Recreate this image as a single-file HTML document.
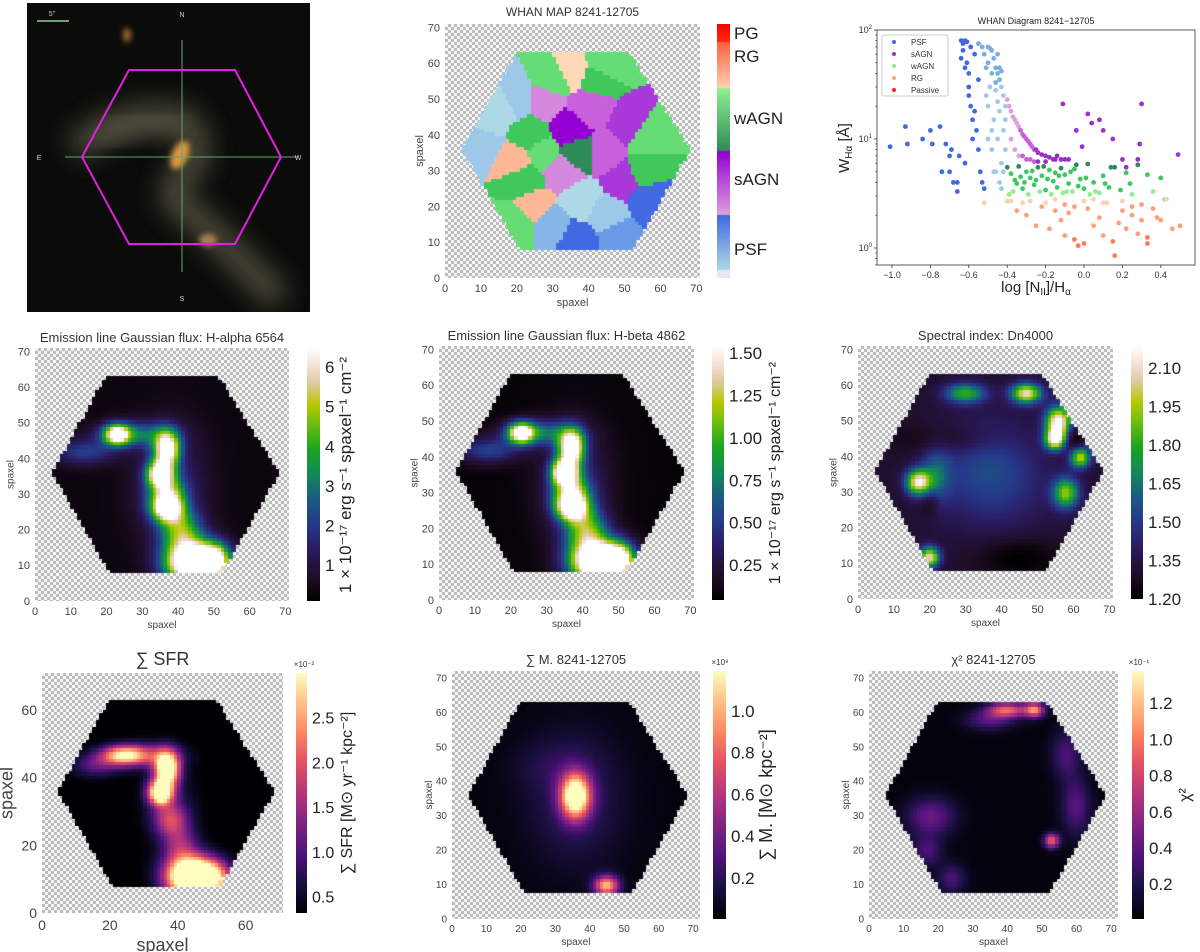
<!DOCTYPE html>
<html><head><meta charset="utf-8">
<style>
html,body{margin:0;padding:0;background:#fff;}
body{width:1200px;height:952px;position:relative;overflow:hidden;font-family:"Liberation Sans","DejaVu Sans",sans-serif;}
canvas{position:absolute;display:block;}
.chk{background:repeating-conic-gradient(#bdbdbd 0 25%,#f4f4f4 0 50%) 0 0/6px 6px;}
#overlay{position:absolute;left:0;top:0;}
</style></head>
<body>
<svg id="galaxy" width="1200" height="952" style="position:absolute;left:0;top:0" xmlns="http://www.w3.org/2000/svg">
 <defs>
  <filter id="bl" x="-50%" y="-50%" width="200%" height="200%"><feGaussianBlur stdDeviation="12"/></filter>
  <filter id="bl2" x="-50%" y="-50%" width="200%" height="200%"><feGaussianBlur stdDeviation="3"/></filter>
  <clipPath id="gclip"><rect x="27" y="3" width="283" height="309"/></clipPath>
 </defs>
 <g clip-path="url(#gclip)">
  <rect x="27" y="3" width="283" height="309" fill="#0b0c09"/>
  <path d="M75,150 Q120,110 175,118 Q200,125 195,160 Q170,185 175,200 Q205,225 230,250 Q255,275 280,300" stroke="#5a5846" stroke-width="30" fill="none" filter="url(#bl)" opacity="0.75"/>
  <path d="M100,140 Q140,118 180,125" stroke="#6e6650" stroke-width="12" fill="none" filter="url(#bl)" opacity="0.8"/>
  <ellipse cx="180" cy="155" rx="8" ry="15" fill="#d89a40" filter="url(#bl2)" transform="rotate(25 180 155)"/>
  <ellipse cx="208" cy="240" rx="9" ry="6" fill="#b08050" filter="url(#bl2)"/>
  <ellipse cx="127" cy="35" rx="4" ry="7" fill="#a06a30" filter="url(#bl2)"/>
  <line x1="182" y1="40" x2="182" y2="272" stroke="#6aa070" stroke-width="1"/>
  <line x1="65" y1="157" x2="298" y2="157" stroke="#6aa070" stroke-width="1"/>
  <line x1="37" y1="21" x2="69" y2="21" stroke="#8fd08f" stroke-width="1.5"/>
  <polygon points="82,157 129,70 235,70 281,157 235,244 129,244" fill="none" stroke="#e020e0" stroke-width="2"/>
 </g>
 <text x="52" y="16" font-size="7" fill="#ccc" text-anchor="middle">5"</text>
 <text x="182" y="17" font-size="7" fill="#ccc" text-anchor="middle">N</text>
 <text x="182" y="301" font-size="7" fill="#ccc" text-anchor="middle">S</text>
 <text x="39" y="160" font-size="7" fill="#ccc" text-anchor="middle">E</text>
 <text x="298" y="160" font-size="7" fill="#ccc" text-anchor="middle">W</text>
</svg>
<svg id="overlay" width="1200" height="952" xmlns="http://www.w3.org/2000/svg"></svg>
<script>
// ---------------- data ----------------
const whanX=[12,20,10,28,40,35,33,45,50,52,38,45,37,30,22,27,24,30,42,55,55,20,20,25,36,37,48,57,16,44];
const whanY=[45,50,38,50,48,42,30,35,28,42,22,18,11,15,28,35,40,55,56,40,30,15,33,20,58,35,12,22,48,60];
const whanC=[0,0,0,1,1,1,1,1,1,1,0,0,0,0,2,2,2,2,2,2,2,2,3,3,3,2,0,0,0,2];
const whanS=[0,1,1,1,2,4,1,2,3,3,0,1,4,2,2,1,2,1,2,1,2,1,1,1,0,4,3,4,0,1];
const haBx=[23,28,14,37,35,37,37,41,45,51,38];
const haBy=[47,47,42,43,36,30,26,20,11,12,32];
const haSx=[2.5,7,6,2.5,2.5,3.5,3,4,5.5,2.5,7];
const haSy=[2,2.5,2.5,3.5,2.5,3.5,2.5,4,4,3,12];
const haAmp=[6,2.5,1.8,6.5,6.5,4,5,3.5,10,3,1.3];
const hbAmp=[1.45,0.6,0.45,1.6,1.6,1.0,1.25,0.85,2.4,0.7,0.32];
const sfrBx=[24,16,37,35,38,41,45,52,30,38];
const sfrBy=[47,44,43,36,28,20,11,11,47,32];
const sfrSx=[4.5,5,2.5,2.5,3.5,3.5,5.5,2.5,7,6];
const sfrSy=[2,2.5,3.5,2.5,3.5,4,4,3,2.5,10];
const sfrAmp=[2.0,0.8,3.5,3.5,1.3,1.0,5,0.8,1.2,0.4];
const dnBx=[36,22,56,55,17,58,20,47,62,25,45,60,20,30,42];
const dnBy=[37,35,50,45,33,30,12,58,40,45,12,45,28,58,30];
const dnSx=[10,3,2.5,2,2.5,2.5,2,3,2,10,8,2,2,4,12];
const dnSy=[10,6,3,2,2.5,3,2,2,2,3,4,3,3,2,10];
const dnAmp=[0.2,0.25,0.9,0.8,0.8,0.6,0.8,0.8,0.7,-0.1,-0.12,-0.15,-0.15,0.5,0.06];
const msBx=[36,45,36,28];
const msBy=[36,10,35,45];
const msSx=[3,2.5,10,8];
const msSy=[4.5,2,14,5];
const msAmp=[1.4,1.0,0.2,0.08];
const chBx=[53,40,48,35,18,60,57,24,17];
const chBy=[23,61,61,58,30,33,48,12,20];
const chSx=[1.5,4,2,5,5,3,3,3,3];
const chSy=[1.5,1.5,1.5,2,4,6,5,3,3];
const chAmp=[0.9,0.9,1.0,0.35,0.4,0.35,0.3,0.3,0.3];
const psfX=[-1.01,-0.92,-0.93,-0.84,-0.8,-0.79,-0.75,-0.74,-0.72,-0.7,-0.69,-0.68,-0.66,-0.65,-0.64,-0.63,-0.62,-0.61,-0.6,-0.6,-0.59,-0.58,-0.57,-0.56,-0.55,-0.54,-0.53,-0.52,-0.64,-0.62,-0.6,-0.58,-0.66,-0.7,-0.62,-0.57,-0.55,-0.61,-0.63,-0.59];
const psfY=[8.5,9,13,10,12,9,13,5,9,5,8,4,3.3,7,80,75,80,78,40,30,20,15,60,12,8,5,4,3.5,55,45,25,10,4,7,6,18,35,50,65,70];
const lpX=[-0.5,-0.49,-0.48,-0.47,-0.46,-0.45,-0.44,-0.43,-0.42,-0.41,-0.5,-0.48,-0.46,-0.44,-0.42,-0.41,-0.47,-0.45,-0.43,-0.49,-0.52,-0.51,-0.5,-0.48,-0.46,-0.44,-0.43,-0.45,-0.47,-0.42,-0.53,-0.55,-0.5,-0.45,-0.41,-0.44,-0.48,-0.46,-0.43,-0.51];
const lpY=[70,68,65,55,45,40,35,30,25,20,50,40,28,18,12,8,15,10,6,30,60,45,20,8,5,4,3.5,60,5,5,70,75,10,22,15,45,12,33,42,25];
const sX=[-0.4,-0.39,-0.38,-0.37,-0.36,-0.35,-0.34,-0.33,-0.32,-0.31,-0.3,-0.29,-0.28,-0.27,-0.26,-0.25,-0.24,-0.22,-0.2,-0.18,-0.16,-0.14,-0.12,-0.1,-0.08,-0.38,-0.36,-0.34,-0.32,-0.3,-0.28,-0.26,-0.24,-0.2,-0.15,-0.11,0.02,0.08,0.1,0.04,-0.04,0.15,0.3,0.29,0.28,0.49,0.2,0.22,-0.01];
const sY=[23,20,18,16,15,14,13,12,11,10.5,10,9.5,9,8.5,8,8,7.5,7.2,7,6.8,6.5,7,6.5,6.5,6.5,10,8,7,7,6.5,6.5,6.2,6.2,6.2,6.5,21,17,15,12,14,12,10,21,9,6.5,7.2,6.5,5.5,8.5];
const wX=[-0.4,-0.38,-0.36,-0.34,-0.32,-0.3,-0.28,-0.26,-0.24,-0.22,-0.2,-0.18,-0.16,-0.14,-0.12,-0.1,-0.08,-0.06,-0.04,-0.02,0,0.02,0.05,0.08,0.1,0.13,0.16,0.19,0.22,0.25,0.28,0.33,0.36,0.4,-0.39,-0.35,-0.31,-0.27,-0.23,-0.19,-0.15,-0.11,-0.07,-0.03,0.01,0.06,0.11,-0.37,-0.33,-0.29,-0.25,-0.21,-0.17,-0.13,-0.09,-0.05,0.03,0.14,0.24,0.42];
const wY=[5.5,4.8,4.2,5.6,3.5,5.0,4.4,3.8,5.5,4.6,3.4,5.2,4.1,3.6,5.4,4.7,3.9,3.3,5.8,4.3,3.5,5.9,4.0,3.2,4.6,3.6,5.5,3.4,4.9,3.1,5.8,4.7,3.3,4.4,3.1,3.9,4.0,5.1,3.3,4.3,4.9,3.2,5.0,3.7,4.4,3.3,3.9,3.3,4.5,3.1,4.2,5.6,3.1,4.6,3.3,5.3,3.1,5.5,3.9,2.8];
const rX=[-0.52,-0.4,-0.35,-0.3,-0.25,-0.22,-0.18,-0.15,-0.12,-0.1,-0.08,-0.05,-0.03,0,0.02,0.05,0.08,0.1,0.12,0.15,0.16,0.18,0.2,0.22,0.25,0.28,0.3,0.33,0.33,0.36,0.38,0.4,0.43,0.46,0.5,-0.28,-0.2,-0.1,0,0.1,0.2,0.3,-0.15,-0.05,0.05,0.25,-0.38,-0.32];
const rY=[2.6,2.7,2.2,2.0,1.6,2.4,1.5,2.8,1.8,1.3,2.1,1.2,1.05,1.1,2.3,1.6,1.9,1.3,2.6,1.15,0.85,1.7,2.2,1.5,2.0,1.35,1.8,1.25,1.1,2.3,1.9,1.8,2.8,1.5,1.6,2.7,2.6,2.5,2.7,2.6,2.7,2.5,2.2,2.4,2.8,2.4,2.7,2.6];
const scXTicks=[-1.0,-0.8,-0.6,-0.4,-0.2,0.0,0.2,0.4];
const scYTicks=[0,1,2];
const legendNames=['PSF','sAGN','wAGN','RG','Passive'];
const whanLabels=['PG','RG','wAGN','sAGN','PSF'];

// ---------------- helpers ----------------
const NS='http://www.w3.org/2000/svg';
const ov=document.getElementById('overlay');
function txt(x,y,s,size,name,anchor,rot,color){
  const e=document.createElementNS(NS,'text');
  e.setAttribute('x',x);e.setAttribute('y',y);
  e.setAttribute('font-size',size);
  e.setAttribute('fill',color||'#444');
  e.setAttribute('text-anchor',anchor||'middle');
  e.setAttribute('font-family','Liberation Sans, DejaVu Sans, sans-serif');
  if(rot)e.setAttribute('transform','rotate('+rot+' '+x+' '+y+')');
  e.textContent=s;
  
  
  ov.appendChild(e);return e;
}
function ln(x1,y1,x2,y2,c,w,name){
  const e=document.createElementNS(NS,'line');
  e.setAttribute('x1',x1);e.setAttribute('y1',y1);e.setAttribute('x2',x2);e.setAttribute('y2',y2);
  e.setAttribute('stroke',c);e.setAttribute('stroke-width',w);
  
  
  ov.appendChild(e);return e;
}
function hex2rgb(h){return [parseInt(h.substr(1,2),16),parseInt(h.substr(3,2),16),parseInt(h.substr(5,2),16)];}
function mkCmap(stops){const s=stops.map(a=>[a[0],hex2rgb(a[1])]);
  return function(t){t=Math.max(0,Math.min(1,t));for(let i=1;i<s.length;i++){if(t<=s[i][0]){const a=s[i-1],b=s[i];const f=(t-a[0])/(b[0]-a[0]||1);
    return 'rgb('+[0,1,2].map(k=>Math.round(a[1][k]+f*(b[1][k]-a[1][k]))).join(',')+')';}}const l=s[s.length-1][1];return 'rgb('+l.join(',')+')';};}
const earth=mkCmap([[0,'#000000'],[0.08,'#1c0c22'],[0.2,'#2a1a5e'],[0.3,'#26388a'],[0.4,'#1a5a82'],[0.5,'#128a5a'],[0.6,'#1aa51e'],[0.7,'#6cbf10'],[0.78,'#b8c800'],[0.86,'#e0c8a0'],[0.93,'#f4e2d4'],[1,'#ffffff']]);
const magma=mkCmap([[0,'#000004'],[0.13,'#1c1044'],[0.25,'#4f127b'],[0.38,'#812581'],[0.5,'#b5367a'],[0.63,'#e55064'],[0.75,'#fb8761'],[0.88,'#fec287'],[1,'#fcfdbf']]);
const hexPoly=[[5,36],[20,63],[51,63],[68,36],[52,8],[21,8]];
function inHex(x,y){let c=false;for(let i=0,j=hexPoly.length-1;i<hexPoly.length;j=i++){const a=hexPoly[i],b=hexPoly[j];
  if(((a[1]>y)!=(b[1]>y))&&(x<(b[0]-a[0])*(y-a[1])/(b[1]-a[1])+a[0]))c=!c;}return c;}
function blobField(bx,by,sx,sy,amp,bg){return function(x,y){let v=bg;for(let i=0;i<bx.length;i++){const dx=(x-bx[i])/sx[i],dy=(y-by[i])/sy[i];v+=amp[i]*Math.exp(-0.5*(dx*dx+dy*dy));}return v;};}
function canvas(x,y,w,h,name,chk){const c=document.createElement('canvas');c.width=w;c.height=h;c.style.left=x+'px';c.style.top=y+'px';if(chk)c.className='chk';
  
  
  document.body.insertBefore(c,ov);return c.getContext('2d');}
function frameAxes(x,y,w,h,range,ticks,fs,labFs,labelName,title,titleFs,titleDy){
  ticks.forEach(t=>{
    txt(x+t/range*w,y+h+fs+3,String(t),fs,'x-tick-label','middle');
    txt(x-5,y+h-t/range*h+fs*0.35,String(t),fs,'y-tick-label','end');
  });
  txt(x+w/2,y+h+fs+labFs+6,'spaxel',labFs,labelName+'-x-axis-title','middle');
  txt(x-fs*1.6-labFs*0.4,y+h/2,'spaxel',labFs,labelName+'-y-axis-title','middle',-90);
  if(title)txt(x+w/2,y-(titleDy||6),title,titleFs,labelName+'-title','middle',0,'#333');
}
function mapPanel(cfg){
  const ctx=canvas(cfg.x,cfg.y,cfg.w,cfg.h,cfg.name+'-heatmap',true);
  const cw=cfg.w/cfg.range,ch=cfg.h/cfg.range;
  for(let i=0;i<Math.ceil(cfg.range);i++)for(let j=0;j<Math.ceil(cfg.range);j++){
    const cx=i+0.5,cy=j+0.5;if(!inHex(cx,cy))continue;
    ctx.fillStyle=cfg.color(cx,cy);
    ctx.fillRect(Math.floor(i*cw),Math.floor(cfg.h-(j+1)*ch),Math.ceil(cw)+1,Math.ceil(ch)+1);
  }
}
function colorbar(x,y,w,h,cmap,vmin,vmax,ticks,fmt,fs,name){
  const ctx=canvas(x,y,w,h,name,false);
  for(let r=0;r<h;r++){ctx.fillStyle=cmap(1-r/(h-1));ctx.fillRect(0,r,w,1);}
  ticks.forEach(t=>{const py=y+h-(t-vmin)/(vmax-vmin)*h;
    txt(x+w+5,py+fs*0.36,t.toFixed(fmt),fs,name+'-tick','start',0,'#222');});
}

// ---------------- WHAN map ----------------
const whanPal=[['#add8e6','#9ec8e8','#87b6e8','#6a9ae6','#4169e1'],['#e0a8e0','#d488de','#c860dc','#a838d8','#9400d3'],['#90ee90','#66dd74','#40c85a','#33b055','#2e8b57'],['#ffd8b8','#ffb896','#ff9a78']];
mapPanel({name:'whan-map',x:445,y:24,w:255,h:254,range:71,color:function(x,y){
  let best=0,bd=1e9;for(let k=0;k<whanX.length;k++){const d=(x-whanX[k])**2+(y-whanY[k])**2;if(d<bd){bd=d;best=k;}}
  const p=whanPal[whanC[best]];return p[Math.min(whanS[best],p.length-1)];}});
frameAxes(445,24,255,254,71,[0,10,20,30,40,50,60,70],11,11,'whan-map','WHAN MAP 8241-12705',12,8);
(function(){const ctx=canvas(717,24,13,254,'whan-colorbar',false);
  const segs=[['#ff0000','#ff2a10',0,0.07],['#ff6040','#ffd0b0',0.07,0.25],['#90f090','#2e8b57',0.25,0.5],['#9400d3','#dda0dd',0.5,0.75],['#4169e1','#add8e6',0.75,0.97],['#e6e6f4','#e6e6f4',0.97,1]];
  segs.forEach(s=>{const a=hex2rgb(s[0]),b=hex2rgb(s[1]);const y0=Math.round(s[2]*254),y1=Math.round(s[3]*254);
    for(let r=y0;r<y1;r++){const f=(r-y0)/Math.max(1,y1-y0-1);ctx.fillStyle='rgb('+[0,1,2].map(k=>Math.round(a[k]+f*(b[k]-a[k]))).join(',')+')';ctx.fillRect(0,r,13,1);}});
  const ly=[39,62,124,185,255];
  whanLabels.forEach((l,i)=>txt(734,ly[i],l,17,'whan-class-label','start',0,'#222'));
})();

// ---------------- WHAN diagram ----------------
(function(){
  const X0=877,X1=1195,Y0=30,Y1=265;
  const xs=v=>892+(v+1.0)/0.1*19.2;
  const ys=v=>248-Math.log10(v)*109;
  const fr=document.createElementNS(NS,'rect');fr.setAttribute('x',X0);fr.setAttribute('y',Y0);fr.setAttribute('width',X1-X0);fr.setAttribute('height',Y1-Y0);fr.setAttribute('fill','none');fr.setAttribute('stroke','#333');fr.setAttribute('stroke-width','0.8');
  
  
  ov.appendChild(fr);
  scXTicks.forEach(t=>{const px=xs(t);ln(px,Y1,px,Y1+3,'#333',0.8,'x-tick');txt(px,Y1+13,(t<0?'\u2212':'')+Math.abs(t).toFixed(1),9,'whan-x-tick-label','middle',0,'#333');});
  scYTicks.forEach(t=>{const py=ys(Math.pow(10,t));ln(X0-3,py,X0,py,'#333',0.8,'y-tick');
    const e=txt(X0-5,py+3,'10',9,'whan-y-tick-label','end',0,'#333');const sp=document.createElementNS(NS,'tspan');sp.setAttribute('dy','-4');sp.setAttribute('font-size','6');sp.textContent=String(t);e.appendChild(sp);});
  for(let d=0;d<2;d++)for(let m=2;m<10;m++){const py=ys(m*Math.pow(10,d));ln(X0-2,py,X0,py,'#333',0.6,'y-minor-tick');}
  [0.7,0.8,0.9].forEach(v=>ln(X0-2,ys(v),X0,ys(v),'#333',0.6,'y-minor-tick'));
  function pts(X,Y,colFn,name){const n=Math.min(X.length,Y.length);for(let i=0;i<n;i++){const c=document.createElementNS(NS,'circle');
    c.setAttribute('cx',xs(X[i]).toFixed(1));c.setAttribute('cy',ys(Y[i]).toFixed(1));c.setAttribute('r','2.4');c.setAttribute('fill',colFn(X[i],Y[i]));
    
    
    ov.appendChild(c);}}
  pts(psfX,psfY,()=>'#4169e1','psf-point');
  pts(lpX,lpY,(x,y)=>y>30?'#7aaee0':'#9ecae8','psf-light-point');
  pts(sX,sY,(x,y)=>x<-0.33?'#dda0dd':(x<-0.25?'#c860dc':'#9932cc'),'sagn-point');
  pts(wX,wY,(x,y)=>y>5.3?'#2e8b57':(y<3.4?'#90ee90':'#3cc860'),'wagn-point');
  pts(rX,rY,(x,y)=>y>2.5?'#ffd0b0':(y<1.3?'#ff7a5a':'#ffa07a'),'rg-point');
  const lg=document.createElementNS(NS,'rect');lg.setAttribute('x',882);lg.setAttribute('y',35);lg.setAttribute('width',66);lg.setAttribute('height',61);lg.setAttribute('fill','#fff');lg.setAttribute('stroke','#ccc');lg.setAttribute('rx','2');
  
  
  ov.appendChild(lg);
  const lc=['#4169e1','#9932cc','#90ee90','#ffa07a','#ff2020'];
  legendNames.forEach((n,i)=>{const c=document.createElementNS(NS,'circle');c.setAttribute('cx',894);c.setAttribute('cy',42+i*12);c.setAttribute('r','2');c.setAttribute('fill',lc[i]);
    
    
    ov.appendChild(c);txt(911,45+i*12,n,8,'legend-entry','start',0,'#333');});
  txt(1036,24,'WHAN Diagram 8241\u221212705',9,'whan-diagram-title','middle',0,'#222');
  const xl=txt(1036,292,'log [N',15,'whan-x-axis-title','middle',0,'#222');
  const s1=document.createElementNS(NS,'tspan');s1.setAttribute('font-size','10');s1.setAttribute('dy','3');s1.textContent='II';xl.appendChild(s1);
  const s2=document.createElementNS(NS,'tspan');s2.setAttribute('dy','-3');s2.textContent=']/H';xl.appendChild(s2);
  const s3=document.createElementNS(NS,'tspan');s3.setAttribute('font-size','10');s3.setAttribute('dy','3');s3.textContent='\u03b1';xl.appendChild(s3);
  const yl=txt(849,148,'W',15,'whan-y-axis-title','middle',-90,'#222');
  const t1=document.createElementNS(NS,'tspan');t1.setAttribute('font-size','10');t1.setAttribute('dy','3');t1.textContent='H\u03b1';yl.appendChild(t1);
  const t2=document.createElementNS(NS,'tspan');t2.setAttribute('dy','-3');t2.textContent=' [\u00c5]';yl.appendChild(t2);
})();

// ---------------- row 2 ----------------
const haF=blobField(haBx,haBy,haSx,haSy,haAmp,0.3);
mapPanel({name:'halpha-map',x:35,y:348,w:254,h:253,range:71,color:(x,y)=>earth((haF(x,y)-0.09)/(6.48-0.09))});
frameAxes(35,348,254,253,71,[0,10,20,30,40,50,60,70],11,10,'halpha-map','Emission line Gaussian flux: H-alpha 6564',13,6);
colorbar(307,348,13,253,earth,0.09,6.48,[1,2,3,4,5,6],0,17,'halpha-colorbar');
txt(351,475,'1 \u00d7 10\u207b\u00b9\u2077 erg s\u207b\u00b9 spaxel\u207b\u00b9 cm\u207b\u00b2',17,'halpha-colorbar-label','middle',-90,'#222');

const hbF=blobField(haBx,haBy,haSx,haSy,hbAmp,0.07);
mapPanel({name:'hbeta-map',x:439,y:346,w:255,h:254,range:71,color:(x,y)=>earth((hbF(x,y)-0.044)/(1.54-0.044))});
frameAxes(439,346,255,254,71,[0,10,20,30,40,50,60,70],11,10,'hbeta-map','Emission line Gaussian flux: H-beta 4862',13,6);
colorbar(712,346,12,254,earth,0.044,1.54,[0.25,0.5,0.75,1.0,1.25,1.5],2,17,'hbeta-colorbar');
txt(780,473,'1 \u00d7 10\u207b\u00b9\u2077 erg s\u207b\u00b9 spaxel\u207b\u00b9 cm\u207b\u00b2',16,'hbeta-colorbar-label','middle',-90,'#222');

const dnF=blobField(dnBx,dnBy,dnSx,dnSy,dnAmp,1.3);
mapPanel({name:'dn4000-map',x:858,y:346,w:255,h:253,range:71,color:(x,y)=>earth((dnF(x,y)-1.2)/(2.186-1.2))});
frameAxes(858,346,255,253,71,[0,10,20,30,40,50,60,70],11,10,'dn4000-map','Spectral index: Dn4000',13,6);
colorbar(1131,346,12,253,earth,1.2,2.186,[1.2,1.35,1.5,1.65,1.8,1.95,2.1],2,17,'dn4000-colorbar');

// ---------------- row 3 ----------------
const sfrF=blobField(sfrBx,sfrBy,sfrSx,sfrSy,sfrAmp,0.25);
mapPanel({name:'sfr-map',x:42,y:673,w:241,h:240,range:71,color:(x,y)=>magma((sfrF(x,y)-0.32)/(3.0-0.32))});
frameAxes(42,673,241,240,71,[0,20,40,60],14,18,'sfr-map','\u2211 SFR',18,8);
colorbar(296,673,11,240,magma,0.32,3.0,[0.5,1.0,1.5,2.0,2.5],1,16,'sfr-colorbar');
txt(304,667,'\u00d710\u207b\u00b2',8,'sfr-colorbar-exponent','middle',0,'#333');
txt(352,793,'\u2211 SFR [M\u2299 yr\u207b\u00b9 kpc\u207b\u00b2]',16,'sfr-colorbar-label','middle',-90,'#222');

const msF=blobField(msBx,msBy,msSx,msSy,msAmp,0.02);
mapPanel({name:'mass-map',x:452,y:671,w:248,h:248,range:72,color:(x,y)=>magma((msF(x,y)-0.003)/(1.19-0.003))});
frameAxes(452,671,248,248,72,[0,10,20,30,40,50,60,70],10,10,'mass-map','\u2211 M. 8241-12705',13,7);
colorbar(713,671,13,248,magma,0.003,1.19,[0.2,0.4,0.6,0.8,1.0],1,17,'mass-colorbar');
txt(720,665,'\u00d710\u2079',8,'mass-colorbar-exponent','middle',0,'#333');
txt(772,795,'\u2211 M. [M\u2299 kpc\u207b\u00b2]',18,'mass-colorbar-label','middle',-90,'#222');

const chF=blobField(chBx,chBy,chSx,chSy,chAmp,0.03);
mapPanel({name:'chi2-map',x:869,y:671,w:249,h:248,range:72,color:(x,y)=>magma((chF(x,y)-0.007)/(1.377-0.007))});
frameAxes(869,671,249,248,72,[0,10,20,30,40,50,60,70],10,10,'chi2-map','\u03c7\u00b2 8241-12705',13,7);
colorbar(1132,671,12,248,magma,0.007,1.377,[0.2,0.4,0.6,0.8,1.0,1.2],1,17,'chi2-colorbar');
txt(1139,665,'\u00d710\u207b\u00b9',8,'chi2-colorbar-exponent','middle',0,'#333');
txt(1190,795,'\u03c7\u00b2',16,'chi2-colorbar-label','middle',-90,'#222');
</script>
</body></html>
